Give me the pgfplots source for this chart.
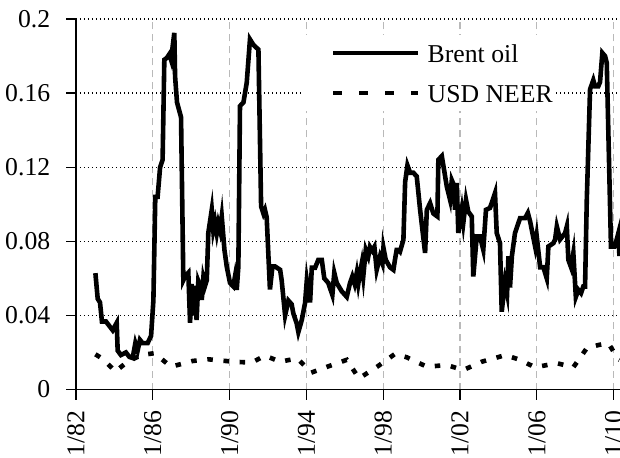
\documentclass[border=0pt]{standalone}
\usepackage{pgfplots}
\pgfplotsset{compat=1.18}
\usepackage{fontspec}
\setmainfont{Liberation Serif}
\newcommand{\chartfont}{\fontsize{25.7pt}{30pt}\selectfont}
\pgfplotsset{
  brentlegend/.style={legend image code/.code={\path (-27pt,0pt); \draw[##1] (0pt,0pt) -- (85pt,0pt);}},
  neerlegend/.style={legend image code/.code={\path (-27pt,0pt); \draw[##1, dash pattern=on 9pt off 17pt] (0pt,0pt) -- (85pt,0pt);}},
}
\begin{document}
\begin{tikzpicture}
\useasboundingbox (-76pt,-67.5pt) rectangle (544pt,389.5pt);
\begin{axis}[
  at={(0pt,0pt)}, anchor=south west,
  scale only axis, width=544pt, height=370.5pt,
  xmin=1982, xmax=2010.33, ymin=0, ymax=0.2,
  axis lines*=left,
  axis line style={-, line width=1.3pt, black},
  xtick={1982,1986,1990,1994,1998,2002,2006,2010},
  xticklabels={1/82,1/86,1/90,1/94,1/98,1/02,1/06,1/10},
  ytick={0,0.04,0.08,0.12,0.16,0.2},
  yticklabels={0,0.04,0.08,0.12,0.16,0.2},
  /pgf/number format/assume math mode=true,
  tick align=outside, major tick length=10pt,
  tick style={black, line width=1.2pt},
  x tick label style={rotate=90, anchor=east, font=\chartfont, inner xsep=11pt},
  y tick label style={font=\chartfont, inner xsep=19.6pt},
  yticklabel shift=-4pt,
  xmajorgrids, ymajorgrids,
  x grid style={gray!55, dash pattern=on 7pt off 5pt, line width=1.2pt},
  y grid style={black, dash pattern=on 1.3pt off 2.7pt, line width=1.2pt},
  legend cell align=left,
  legend style={at={(0.419,0.957)}, anchor=north west, draw=none, fill=white,
    inner xsep=0pt, inner ysep=8pt, font=\chartfont,
    row sep=20pt, column sep=7pt,
    nodes={inner sep=0pt, text height=19pt, text depth=1pt}},
]
\addplot[black, line width=4.6pt, brentlegend] table {
x y
1983.01 0.0628
1983.13 0.049
1983.25 0.047
1983.35 0.0367
1983.56 0.0367
1983.91 0.032
1984.12 0.036
1984.17 0.021
1984.34 0.0186
1984.60 0.020
1984.78 0.0176
1984.95 0.017
1985.09 0.025
1985.21 0.021
1985.33 0.0268
1985.47 0.025
1985.73 0.025
1985.91 0.029
1986.03 0.048
1986.13 0.104
1986.25 0.104
1986.38 0.120
1986.51 0.124
1986.60 0.178
1986.73 0.179
1986.86 0.181
1986.95 0.178
1987.12 0.1925
1987.16 0.169
1987.26 0.155
1987.47 0.147
1987.59 0.059
1987.68 0.061
1987.85 0.063
1987.94 0.036
1988.02 0.057
1988.11 0.040
1988.20 0.056
1988.28 0.0375
1988.37 0.0585
1988.46 0.056
1988.55 0.0484
1988.63 0.060
1988.72 0.056
1988.81 0.059
1988.89 0.0845
1989.07 0.097
1989.15 0.086
1989.24 0.0905
1989.33 0.0845
1989.41 0.0897
1989.50 0.086
1989.59 0.0934
1989.73 0.0754
1989.85 0.0664
1990.02 0.0575
1990.19 0.0557
1990.28 0.061
1990.37 0.0538
1990.455 0.0664
1990.54 0.153
1990.72 0.155
1990.89 0.1655
1991.06 0.189
1991.24 0.186
1991.50 0.1835
1991.64 0.0988
1991.76 0.095
1991.84 0.097
1991.93 0.093
1992.10 0.054
1992.23 0.0664
1992.37 0.0664
1992.63 0.0646
1992.71 0.059
1992.89 0.040
1993.06 0.048
1993.23 0.046
1993.32 0.041
1993.49 0.0358
1993.58 0.031
1993.76 0.0376
1993.93 0.0468
1994.02 0.059
1994.19 0.047
1994.28 0.0657
1994.45 0.0657
1994.62 0.070
1994.80 0.070
1994.93 0.060
1995.14 0.0575
1995.35 0.051
1995.45 0.063
1995.58 0.0575
1995.84 0.053
1996.10 0.050
1996.27 0.0575
1996.39 0.061
1996.51 0.057
1996.62 0.063
1996.70 0.057
1996.79 0.063
1996.88 0.068
1996.96 0.061
1997.09 0.0754
1997.22 0.0718
1997.31 0.077
1997.43 0.075
1997.54 0.077
1997.66 0.0646
1997.83 0.0718
1997.96 0.068
1998.01 0.0765
1998.13 0.070
1998.35 0.066
1998.53 0.0646
1998.61 0.070
1998.70 0.0754
1998.80 0.0754
1998.875 0.0745
1999.05 0.0808
1999.14 0.112
1999.26 0.121
1999.40 0.117
1999.57 0.117
1999.745 0.115
1999.92 0.097
2000.18 0.0737
2000.27 0.097
2000.44 0.1006
2000.61 0.095
2000.82 0.0934
2000.87 0.124
2001.05 0.126
2001.31 0.1096
2001.48 0.1024
2001.57 0.113
2001.65 0.111
2001.74 0.097
2001.83 0.1115
2001.91 0.0845
2002.09 0.097
2002.17 0.090
2002.31 0.1024
2002.43 0.096
2002.61 0.0934
2002.69 0.061
2002.87 0.0826
2003.04 0.0826
2003.21 0.0754
2003.35 0.097
2003.56 0.098
2003.82 0.106
2003.91 0.0845
2004.08 0.079
2004.17 0.042
2004.34 0.058
2004.45 0.052
2004.52 0.072
2004.60 0.055
2004.70 0.072
2004.86 0.0844
2005.125 0.0925
2005.385 0.0925
2005.53 0.0953
2005.65 0.0907
2005.91 0.0772
2005.99 0.083
2006.17 0.066
2006.34 0.066
2006.515 0.060
2006.60 0.0772
2006.86 0.079
2006.95 0.081
2007.04 0.088
2007.21 0.081
2007.47 0.0844
2007.56 0.088
2007.64 0.070
2007.78 0.066
2007.90 0.0736
2008.03 0.050
2008.16 0.0538
2008.30 0.052
2008.42 0.0556
2008.51 0.0556
2008.60 0.1024
2008.77 0.162
2008.94 0.167
2009.03 0.1637
2009.20 0.1637
2009.29 0.166
2009.41 0.1817
2009.55 0.180
2009.64 0.1763
2009.86 0.0772
2010.04 0.0772
2010.16 0.081
2010.245 0.0844
2010.30 0.072
};
\addlegendentry{Brent oil}
\addplot[black, line width=4.6pt, dash pattern=on 5.5pt off 10.7pt, neerlegend] table {
x y
1983.01 0.019
1983.21 0.0177
1983.34 0.0168
1983.99 0.0105
1984.03 0.0096
1984.69 0.015
1985.39 0.0186
1986.08 0.0196
1986.95 0.0123
1988.08 0.0154
1988.89 0.0163
1990.19 0.015
1991.15 0.0145
1991.84 0.0183
1992.625 0.015
1993.53 0.0168
1994.25 0.0091
1995.14 0.0125
1996.10 0.016
1996.74 0.006
1997.74 0.0127
1998.61 0.0192
1999.22 0.0174
2000.27 0.0123
2001.31 0.0132
2002.17 0.0105
2003.13 0.015
2004.17 0.018
2004.34 0.0186
2005.04 0.0163
2005.91 0.012
2007.04 0.0142
2007.90 0.012
2008.60 0.0223
2009.20 0.024
2009.72 0.025
2010.245 0.0163
2010.30 0.016
};
\addlegendentry{USD NEER}
\end{axis}
\end{tikzpicture}
\end{document}
